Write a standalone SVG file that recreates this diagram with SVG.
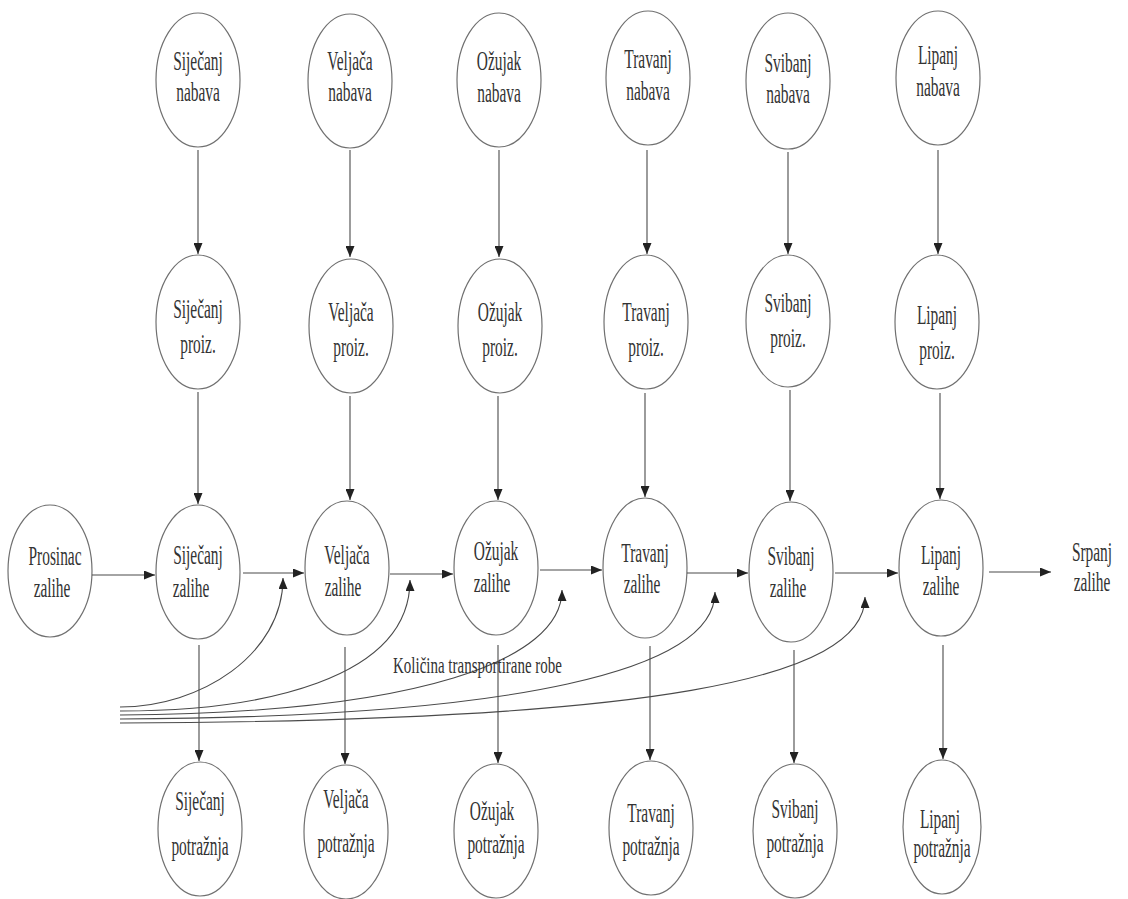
<svg xmlns="http://www.w3.org/2000/svg" width="1128" height="899" viewBox="0 0 1128 899">
<defs>
<style>
.n ellipse{fill:none;stroke:#707070;stroke-width:1.2}
.n text, .t{font-family:"Liberation Serif","Times New Roman",serif;font-size:27.5px;fill:#333333;text-anchor:middle}
.c path,.c line{fill:none;stroke:#4a4a4a;stroke-width:1.1;marker-end:url(#ah)}
.lbl{font-family:"Liberation Serif","Times New Roman",serif;font-size:23px;fill:#333333}
</style>
<marker id="ah" markerUnits="userSpaceOnUse" markerWidth="11" markerHeight="9" refX="11" refY="4.5" orient="auto"><path d="M0,0 L11,4.5 L0,9 z" fill="#222"/></marker>
</defs>
<rect width="1128" height="899" fill="#ffffff"/>

<g id="n-sij-nabava" class="n"><ellipse cx="198" cy="80" rx="42" ry="67"/><text transform="translate(198,0) scale(0.56,1)" y="70">Siječanj</text><text transform="translate(198,0) scale(0.56,1)" y="101">nabava</text></g>
<g id="n-velj-nabava" class="n"><ellipse cx="350" cy="81" rx="42" ry="67"/><text transform="translate(350,0) scale(0.56,1)" y="70">Veljača</text><text transform="translate(350,0) scale(0.56,1)" y="101">nabava</text></g>
<g id="n-ozu-nabava" class="n"><ellipse cx="499" cy="80" rx="42" ry="67"/><text transform="translate(499,0) scale(0.56,1)" y="70">Ožujak</text><text transform="translate(499,0) scale(0.56,1)" y="102">nabava</text></g>
<g id="n-tra-nabava" class="n"><ellipse cx="648" cy="78" rx="42" ry="67"/><text transform="translate(648,0) scale(0.56,1)" y="68">Travanj</text><text transform="translate(648,0) scale(0.56,1)" y="100">nabava</text></g>
<g id="n-svi-nabava" class="n"><ellipse cx="788" cy="81" rx="42" ry="68"/><text transform="translate(788,0) scale(0.56,1)" y="72">Svibanj</text><text transform="translate(788,0) scale(0.56,1)" y="103">nabava</text></g>
<g id="n-lip-nabava" class="n"><ellipse cx="938" cy="78" rx="42" ry="67"/><text transform="translate(938,0) scale(0.56,1)" y="64">Lipanj</text><text transform="translate(938,0) scale(0.56,1)" y="96">nabava</text></g>

<g id="n-sij-proiz" class="n"><ellipse cx="198" cy="322" rx="42" ry="67"/><text transform="translate(198,0) scale(0.56,1)" y="318">Siječanj</text><text transform="translate(198,0) scale(0.56,1)" y="353">proiz.</text></g>
<g id="n-velj-proiz" class="n"><ellipse cx="351" cy="326" rx="42" ry="67"/><text transform="translate(351,0) scale(0.56,1)" y="321">Veljača</text><text transform="translate(351,0) scale(0.56,1)" y="356">proiz.</text></g>
<g id="n-ozu-proiz" class="n"><ellipse cx="500" cy="326" rx="42" ry="67"/><text transform="translate(500,0) scale(0.56,1)" y="321">Ožujak</text><text transform="translate(500,0) scale(0.56,1)" y="356">proiz.</text></g>
<g id="n-tra-proiz" class="n"><ellipse cx="646" cy="322" rx="42" ry="67"/><text transform="translate(646,0) scale(0.56,1)" y="321">Travanj</text><text transform="translate(646,0) scale(0.56,1)" y="356">proiz.</text></g>
<g id="n-svi-proiz" class="n"><ellipse cx="788" cy="321" rx="42" ry="66"/><text transform="translate(788,0) scale(0.56,1)" y="312">Svibanj</text><text transform="translate(788,0) scale(0.56,1)" y="347">proiz.</text></g>
<g id="n-lip-proiz" class="n"><ellipse cx="937" cy="322" rx="42" ry="67"/><text transform="translate(937,0) scale(0.56,1)" y="324">Lipanj</text><text transform="translate(937,0) scale(0.56,1)" y="359">proiz.</text></g>

<g id="n-pro-zalihe" class="n"><ellipse cx="50" cy="571" rx="42" ry="66"/><text transform="translate(55,0) scale(0.56,1)" y="565">Prosinac</text><text transform="translate(52,0) scale(0.56,1)" y="597">zalihe</text></g>
<g id="n-sij-zalihe" class="n"><ellipse cx="198" cy="572" rx="42" ry="67"/><text transform="translate(198,0) scale(0.56,1)" y="564">Siječanj</text><text transform="translate(191,0) scale(0.56,1)" y="597">zalihe</text></g>
<g id="n-velj-zalihe" class="n"><ellipse cx="347" cy="568" rx="42" ry="67"/><text transform="translate(347,0) scale(0.56,1)" y="564">Veljača</text><text transform="translate(343,0) scale(0.56,1)" y="596">zalihe</text></g>
<g id="n-ozu-zalihe" class="n"><ellipse cx="496" cy="568" rx="42" ry="67"/><text transform="translate(496,0) scale(0.56,1)" y="560">Ožujak</text><text transform="translate(492,0) scale(0.56,1)" y="592">zalihe</text></g>
<g id="n-tra-zalihe" class="n"><ellipse cx="645" cy="568" rx="42" ry="70"/><text transform="translate(645,0) scale(0.56,1)" y="562">Travanj</text><text transform="translate(642,0) scale(0.56,1)" y="593">zalihe</text></g>
<g id="n-svi-zalihe" class="n"><ellipse cx="791" cy="572" rx="42" ry="70"/><text transform="translate(791,0) scale(0.56,1)" y="565">Svibanj</text><text transform="translate(788,0) scale(0.56,1)" y="597">zalihe</text></g>
<g id="n-lip-zalihe" class="n"><ellipse cx="941" cy="568" rx="42" ry="68"/><text transform="translate(941,0) scale(0.56,1)" y="564">Lipanj</text><text transform="translate(941,0) scale(0.56,1)" y="595">zalihe</text></g>
<g id="n-srp-zalihe" class="n"><text transform="translate(1092,0) scale(0.56,1)" y="561">Srpanj</text><text transform="translate(1092,0) scale(0.56,1)" y="591">zalihe</text></g>

<g id="n-sij-potraznja" class="n"><ellipse cx="200" cy="829" rx="42" ry="67"/><text transform="translate(200,0) scale(0.56,1)" y="810">Siječanj</text><text transform="translate(200,0) scale(0.56,1)" y="855">potražnja</text></g>
<g id="n-velj-potraznja" class="n"><ellipse cx="346" cy="832" rx="42" ry="67"/><text transform="translate(346,0) scale(0.56,1)" y="808">Veljača</text><text transform="translate(346,0) scale(0.56,1)" y="852">potražnja</text></g>
<g id="n-ozu-potraznja" class="n"><ellipse cx="496" cy="831" rx="42" ry="67"/><text transform="translate(492,0) scale(0.56,1)" y="820">Ožujak</text><text transform="translate(496,0) scale(0.56,1)" y="853">potražnja</text></g>
<g id="n-tra-potraznja" class="n"><ellipse cx="651" cy="828" rx="42" ry="67"/><text transform="translate(651,0) scale(0.56,1)" y="822">Travanj</text><text transform="translate(651,0) scale(0.56,1)" y="855">potražnja</text></g>
<g id="n-svi-potraznja" class="n"><ellipse cx="795" cy="831" rx="42" ry="67"/><text transform="translate(795,0) scale(0.56,1)" y="818">Svibanj</text><text transform="translate(795,0) scale(0.56,1)" y="852">potražnja</text></g>
<g id="n-lip-potraznja" class="n"><ellipse cx="942" cy="827" rx="39" ry="67"/><text transform="translate(940,0) scale(0.56,1)" y="828">Lipanj</text><text transform="translate(942,0) scale(0.56,1)" y="857">potražnja</text></g>

<g id="connectors" class="c">
<line x1="198" y1="150" x2="198" y2="254"/>
<line x1="350" y1="150" x2="350" y2="257"/>
<line x1="499" y1="150" x2="499" y2="257"/>
<line x1="647" y1="150" x2="647" y2="254"/>
<line x1="788" y1="152" x2="788" y2="254"/>
<line x1="938" y1="150" x2="938" y2="254"/>

<line x1="198" y1="392" x2="198" y2="504"/>
<line x1="350" y1="396" x2="350" y2="500"/>
<line x1="498" y1="396" x2="498" y2="500"/>
<line x1="645" y1="393" x2="645" y2="497"/>
<line x1="790" y1="390" x2="790" y2="501"/>
<line x1="940" y1="393" x2="940" y2="499"/>

<line x1="199" y1="645" x2="199" y2="761"/>
<line x1="345" y1="647" x2="345" y2="764"/>
<line x1="498" y1="645" x2="498" y2="763"/>
<line x1="650" y1="646" x2="650" y2="760"/>
<line x1="794" y1="650" x2="794" y2="763"/>
<line x1="943" y1="645" x2="943" y2="759"/>

<line x1="92" y1="575" x2="155" y2="575"/>
<line x1="243" y1="573" x2="304" y2="573"/>
<line x1="390" y1="574" x2="453" y2="574"/>
<line x1="540" y1="570" x2="602" y2="570"/>
<line x1="687" y1="573" x2="748" y2="573"/>
<line x1="835" y1="573" x2="898" y2="573"/>
<line x1="989" y1="572" x2="1051" y2="572"/>

<path d="M120,707 C200,707 283,655 283,578"/>
<path d="M120,711 C260,711 410,680 410,580"/>
<path d="M120,715 C420,713 562,660 562,590"/>
<path d="M120,719 C520,717 715,670 715,592"/>
<path d="M120,723 C650,721 865,680 865,597"/>
</g>

<text class="lbl" x="393" y="673" textLength="169" lengthAdjust="spacingAndGlyphs">Količina transportirane robe</text>
</svg>
